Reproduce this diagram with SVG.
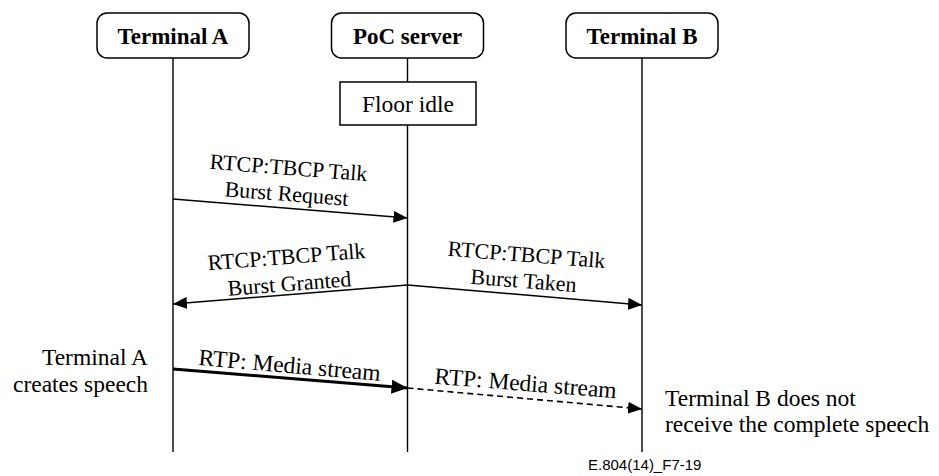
<svg xmlns="http://www.w3.org/2000/svg" width="939" height="476" viewBox="0 0 939 476">
<defs>
<style>
.box{fill:#fff;stroke:#000;stroke-width:1.5}
.life{stroke:#000;stroke-width:1.4;fill:none}
.hd{font-family:"Liberation Serif","Tinos","DejaVu Serif","Noto Serif",serif;font-weight:bold;font-size:23px;text-anchor:middle;fill:#000}
.t{font-family:"Liberation Serif","Tinos","DejaVu Serif","Noto Serif",serif;font-size:22px;fill:#000}
.n{font-family:"Liberation Serif","Tinos","DejaVu Serif","Noto Serif",serif;font-size:23.5px;fill:#000}
.c{text-anchor:middle}
.msg{stroke:#000;stroke-width:1.4;fill:none}
.thick{stroke:#000;stroke-width:3;fill:none}
.dash{stroke:#000;stroke-width:1.6;fill:none;stroke-dasharray:6 4}
.fig{font-family:"Liberation Sans",Arial,sans-serif;font-size:15px;fill:#000}
</style>
<marker id="ah" markerUnits="userSpaceOnUse" markerWidth="16" markerHeight="12" refX="14" refY="6" orient="auto">
<path d="M0,0 L14,6 L0,12 Z" fill="#000"/>
</marker>
<marker id="ahb" markerUnits="userSpaceOnUse" markerWidth="18" markerHeight="14" refX="16" refY="7" orient="auto">
<path d="M0,0 L16,7 L0,14 Z" fill="#000"/>
</marker>
</defs>
<rect width="939" height="476" fill="#fff"/>

<g id="terminalA">
<rect class="box" x="97" y="13" width="152" height="45" rx="10"/>
<text class="hd" x="173" y="44">Terminal A</text>
<line class="life" x1="173" y1="58" x2="173" y2="452"/>
</g>
<g id="pocServer">
<rect class="box" x="331.5" y="13" width="152" height="45" rx="10"/>
<text class="hd" x="407.5" y="44">PoC server</text>
<line class="life" x1="407.5" y1="58" x2="407.5" y2="82"/>
<line class="life" x1="407.5" y1="125" x2="407.5" y2="452"/>
</g>
<g id="terminalB">
<rect class="box" x="566" y="13" width="152" height="45" rx="10"/>
<text class="hd" x="642" y="44">Terminal B</text>
<line class="life" x1="642" y1="58" x2="642" y2="452"/>
</g>
<g id="floorIdle">
<rect class="box" x="340" y="82" width="136" height="43"/>
<text class="n c" x="408" y="112">Floor idle</text>
</g>

<g id="connectors">
<line class="msg" x1="173" y1="199" x2="407.5" y2="218" marker-end="url(#ah)"/>
<line class="msg" x1="407.5" y1="285" x2="173" y2="304" marker-end="url(#ah)"/>
<line class="msg" x1="407.5" y1="285" x2="642" y2="305" marker-end="url(#ah)"/>
<line class="thick" x1="173" y1="369" x2="407.5" y2="388" marker-end="url(#ahb)"/>
<line class="dash" x1="407.5" y1="388" x2="642" y2="409" marker-end="url(#ah)"/>
</g>

<g id="labels">
<text class="t c" x="288" y="175" transform="rotate(4.5 288 175)">RTCP:TBCP Talk</text>
<text class="t c" x="286" y="201" transform="rotate(4.5 286 201)">Burst Request</text>
<text class="t c" x="287" y="264" transform="rotate(-4.5 287 264)">RTCP:TBCP Talk</text>
<text class="t c" x="290" y="291" transform="rotate(-4.5 290 291)">Burst Granted</text>
<text class="t c" x="526" y="262" transform="rotate(4.5 526 262)">RTCP:TBCP Talk</text>
<text class="t c" x="523" y="288" transform="rotate(4.5 523 288)">Burst Taken</text>
<text class="n c" x="289" y="373" transform="rotate(5 289 373)">RTP: Media stream</text>
<text class="n c" x="525" y="391" transform="rotate(4.5 525 391)">RTP: Media stream</text>
</g>

<g id="notes">
<text class="n" x="148" y="365" text-anchor="end">Terminal A</text>
<text class="n" x="148" y="392" text-anchor="end">creates speech</text>
<text class="n" x="665" y="406">Terminal B does not</text>
<text class="n" x="665" y="432">receive the complete speech</text>
<text class="fig" x="588" y="470">E.804(14)_F7-19</text>
</g>
</svg>
